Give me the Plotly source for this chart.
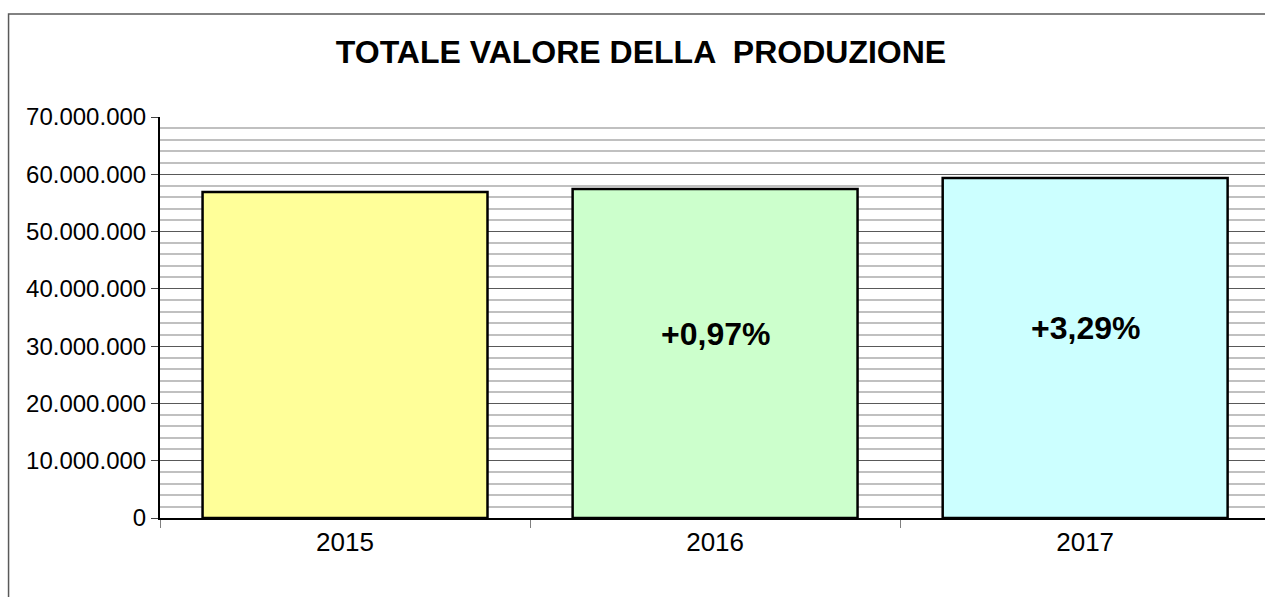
import plotly.graph_objects as go

years = ["2015", "2016", "2017"]
values = [56_900_000, 57_450_000, 59_340_000]
bar_colors = ["#FFFF99", "#CCFFCC", "#CCFFFF"]
pct_labels = ["", "+0,97%", "+3,29%"]
title_text = "TOTALE VALORE DELLA  PRODUZIONE"

FONT = "Liberation Sans, Arial, sans-serif"
W, H = 1265, 597

fig = go.Figure()
fig.add_trace(go.Bar(
    x=years, y=values,
    marker=dict(color=bar_colors, line=dict(color="black", width=2.5)),
    width=0.77,
    hoverinfo="x+y",
))

for i, (v, lab) in enumerate(zip(values, pct_labels)):
    if lab:
        fig.add_annotation(x=i, y=v * 0.56, text=f"<b>{lab}</b>", showarrow=False,
                           font=dict(family=FONT, size=32, color="black"),
                           xanchor="center", yanchor="middle")

# outer chart frame
fig.add_shape(type="rect", xref="paper", yref="paper",
              x0=-152 / 1105 + 0.0005, x1=1.05, y0=-0.3, y1=(518 - 14) / 401,
              line=dict(color="#595959", width=1.5), fillcolor="rgba(0,0,0,0)", layer="below")

fig.update_layout(
    width=W, height=H,
    margin=dict(l=160, r=0, t=117, b=79),
    paper_bgcolor="white", plot_bgcolor="white",
    separators=",.",
    showlegend=False,
    font=dict(family=FONT, color="black"),
    title=dict(text=f"<b>{title_text}</b>", x=641 / W, xanchor="center",
               y=1 - 52 / H, yanchor="middle",
               font=dict(family=FONT, size=32, color="black")),
    xaxis=dict(
        type="category", range=[-0.5, 2.486],
        showline=True, linecolor="black", linewidth=2,
        ticks="outside", tickson="boundaries", ticklen=8, tickcolor="#808080",
        tickfont=dict(family=FONT, size=26, color="black"),
        showgrid=False, fixedrange=True,
    ),
    yaxis=dict(
        range=[0, 70_000_000], dtick=10_000_000, tickformat=",d",
        showline=True, linecolor="black", linewidth=2,
        ticks="outside", ticklen=7, tickcolor="#404040",
        tickfont=dict(family=FONT, size=24, color="black"),
        showgrid=True, gridcolor="#595959", gridwidth=1,
        zeroline=False,
        minor=dict(dtick=2_000_000, showgrid=True, gridcolor="#C0C0C0", gridwidth=2),
    ),
)

fig.write_html(
    "out.html",
    config={"displayModeBar": False},
    post_script="document.body.style.margin='0';document.body.style.overflow='hidden';",
)
